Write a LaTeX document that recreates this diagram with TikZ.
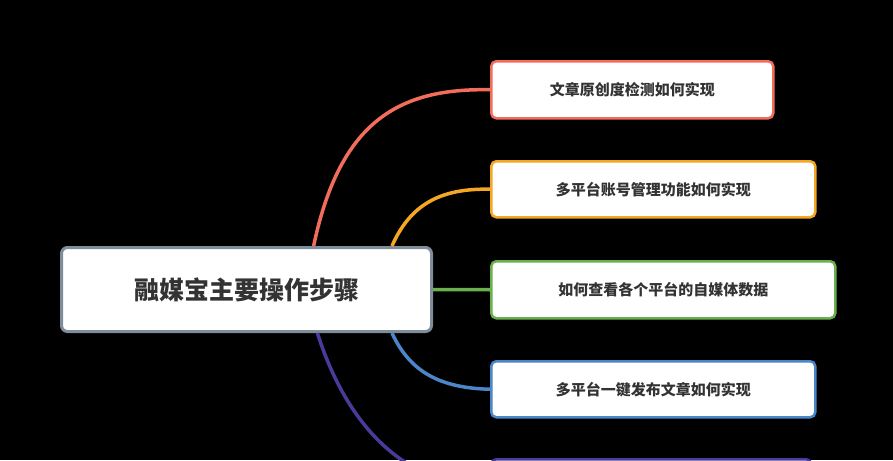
\documentclass[tikz,border=0pt]{standalone}
\usepackage{fontspec}
\setmainfont{Noto Sans CJK SC}
\usetikzlibrary{calc}
\definecolor{cred}{HTML}{F26D5B}
\definecolor{corange}{HTML}{F5A623}
\definecolor{cgreen}{HTML}{6AB04C}
\definecolor{cblue}{HTML}{4A86C8}
\definecolor{cpurple}{HTML}{4B3A9B}
\definecolor{cgray}{HTML}{7F8C9A}
\definecolor{ctext}{HTML}{333333}
\begin{document}
\begin{tikzpicture}[x=1pt,y=-1pt,
  leaf/.style={draw=#1,line width=2.5pt,rounded corners=5pt,fill=white,anchor=north west,inner sep=0pt,align=center,font=\bfseries\fontsize{15}{18}\selectfont,text=ctext},
  branch/.style={draw=#1,line width=3.5pt}]
\useasboundingbox (0,0) rectangle (893,460);
\clip (0,0) rectangle (893,460);
\fill[black] (0,0) rectangle (893,460);
\node[draw=cgray,line width=3pt,rounded corners=6pt,fill=white,anchor=north west,minimum width=370pt,minimum height=84pt,font=\bfseries\fontsize{25}{30}\selectfont,text=ctext] (c) at (60,246) {融媒宝主要操作步骤};
\node[leaf=cred,minimum width=282pt,minimum height=57pt] (a1) at (490,60) {文章原创度检测如何实现};
\node[leaf=corange,minimum width=324pt,minimum height=56pt] (a2) at (490,160) {多平台账号管理功能如何实现};
\node[leaf=cgreen,minimum width=344pt,minimum height=57pt] (a3) at (490,260) {如何查看各个平台的自媒体数据};
\node[leaf=cblue,minimum width=324pt,minimum height=56pt] (a4) at (490,360) {多平台一键发布文章如何实现};
\node[leaf=cpurple,minimum width=320pt,minimum height=56pt] (a5) at (490,458) {};
\coordinate (s1) at ($(c.north west)!0.68!(c.north east)$);
\coordinate (s2) at ($(c.north west)!0.89!(c.north east)$);
\coordinate (s4) at ($(c.south west)!0.89!(c.south east)$);
\coordinate (s5) at ($(c.south west)!0.69!(c.south east)$);
\draw[branch=cred] (s1) .. controls (340,120) and (400,88) .. (a1.west);
\draw[branch=corange] (s2) .. controls (410,205) and (440,188) .. (a2.west);
\draw[branch=cgreen] (c.east) -- (a3.west);
\draw[branch=cblue] (s4) .. controls (410,372) and (440,388) .. (a4.west);
\draw[branch=cpurple] (s5) .. controls (345,420) and (400,486) .. (a5.west);
\end{tikzpicture}
\end{document}
